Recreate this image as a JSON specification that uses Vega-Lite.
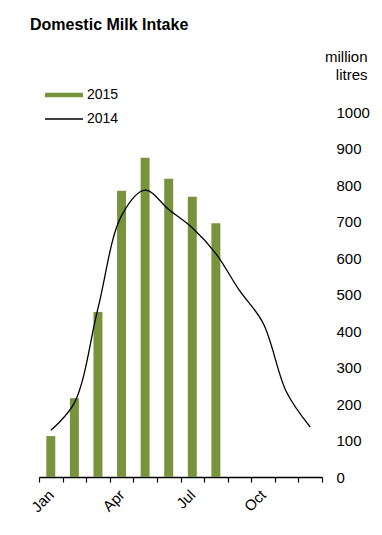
{
  "$schema": "https://vega.github.io/schema/vega-lite/v6.json",
  "width": 283,
  "height": 365,
  "autosize": {"type": "none"},
  "padding": {"left": 39, "top": 112, "right": 60, "bottom": 58},
  "background": "white",
  "config": {
    "view": {"stroke": null},
    "font": "Liberation Sans",
    "axis": {"grid": false}
  },
  "title": {
    "text": "Domestic Milk Intake",
    "anchor": "start",
    "frame": "group",
    "dx": -9,
    "fontSize": 16,
    "fontWeight": "bold",
    "color": "#000000",
    "baseline": "alphabetic",
    "offset": 3
  },
  "datasets": {
    "bars": [
      {"month": "Jan", "series": "2015", "value": 112},
      {"month": "Feb", "series": "2015", "value": 216},
      {"month": "Mar", "series": "2015", "value": 452},
      {"month": "Apr", "series": "2015", "value": 784},
      {"month": "May", "series": "2015", "value": 875},
      {"month": "Jun", "series": "2015", "value": 817},
      {"month": "Jul", "series": "2015", "value": 768},
      {"month": "Aug", "series": "2015", "value": 695}
    ],
    "line": [
      {"month": "Jan", "series": "2014", "value": 128},
      {"month": "Feb", "series": "2014", "value": 203},
      {"month": "Mar", "series": "2014", "value": 462},
      {"month": "Apr", "series": "2014", "value": 716},
      {"month": "May", "series": "2014", "value": 786},
      {"month": "Jun", "series": "2014", "value": 733},
      {"month": "Jul", "series": "2014", "value": 683},
      {"month": "Aug", "series": "2014", "value": 612},
      {"month": "Sep", "series": "2014", "value": 511},
      {"month": "Oct", "series": "2014", "value": 422},
      {"month": "Nov", "series": "2014", "value": 232},
      {"month": "Dec", "series": "2014", "value": 137}
    ]
  },
  "encoding": {
    "x": {
      "field": "month",
      "type": "ordinal",
      "sort": ["Jan","Feb","Mar","Apr","May","Jun","Jul","Aug","Sep","Oct","Nov","Dec"],
      "scale": {"domain": ["Jan","Feb","Mar","Apr","May","Jun","Jul","Aug","Sep","Oct","Nov","Dec"], "paddingInner": 0, "paddingOuter": 0},
      "axis": {
        "title": null,
        "tickBand": "extent",
        "labelExpr": "indexof(['Jan','Apr','Jul','Oct'], datum.value) >= 0 ? datum.value : ''",
        "labelAngle": -45,
        "labelAlign": "right",
        "labelBaseline": "middle",
        "labelOverlap": false,
        "labelFontSize": 15,
        "labelColor": "#000000",
        "labelPadding": 10,
        "tickSize": 5,
        "tickColor": "#000000",
        "tickWidth": 1.2,
        "domainColor": "#000000",
        "domainWidth": 1.5
      }
    },
    "y": {
      "field": "value",
      "type": "quantitative",
      "scale": {"domain": [0, 1000], "nice": false},
      "axis": {
        "orient": "right",
        "values": [0,100,200,300,400,500,600,700,800,900,1000],
        "format": "d",
        "domain": false,
        "ticks": false,
        "tickSize": 0,
        "labelAlign": "left",
        "labelPadding": 14,
        "labelFontSize": 15,
        "labelColor": "#000000",
        "title": ["million", "litres"],
        "titleAngle": 0,
        "titleAlign": "right",
        "titleBaseline": "alphabetic",
        "titleX": 45,
        "titleY": -51,
        "titleFontSize": 15,
        "titleFontWeight": "normal",
        "titleColor": "#000000",
        "titleLineHeight": 18
      }
    },
    "color": {
      "field": "series",
      "type": "nominal",
      "scale": {"domain": ["2015", "2014"], "range": ["#77933C", "#000000"]},
      "legend": {
        "title": null,
        "orient": "none",
        "legendX": 6,
        "legendY": -24,
        "padding": 0,
        "symbolType": "stroke",
        "symbolSize": 1444,
        "rowPadding": 8,
        "labelOffset": 4,
        "labelFontSize": 14,
        "labelColor": "#000000",
        "encode": {
          "symbols": {
            "update": {
              "x": {"value": 19},
              "stroke": {"signal": "datum.value == '2015' ? '#77933C' : '#000000'"},
              "strokeWidth": {"signal": "datum.value == '2015' ? 4.5 : 1.3"},
              "fill": {"value": "transparent"}
            }
          },
          "labels": {
            "update": {
              "x": {"value": 42}
            }
          }
        }
      }
    }
  },
  "layer": [
    {
      "data": {"name": "bars"},
      "mark": {"type": "bar", "width": {"band": 0.38}}
    },
    {
      "data": {"name": "line"},
      "mark": {"type": "line", "interpolate": "catmull-rom", "strokeWidth": 1.3}
    }
  ]
}
